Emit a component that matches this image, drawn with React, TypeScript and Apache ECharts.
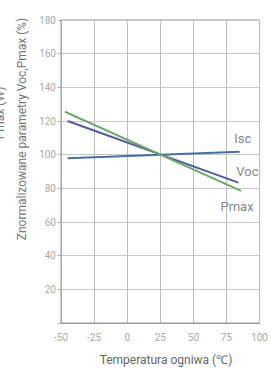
import React, { useEffect, useRef } from "react";
import * as echarts from "echarts";

const xTicks = [-50, -25, 0, 25, 50, 75, 100];
const seriesNames = ["Isc", "Voc", "Pmax"];
const iscData = [[-45, 97.8], [85, 101.8]];
const vocData = [[-45, 120], [84, 83.4]];
const pmaxData = [[-47, 125.5], [86, 78.5]];
const colors = ["#4a6f9c", "#545c98", "#6fa86c"];
const labelOffsets = [[3, -13], [9, -11], [-4, 16]];

export default function App() {
  const ref = useRef<HTMLDivElement>(null);
  useEffect(() => {
    if (!ref.current) return;
    const chart = echarts.init(ref.current, null, { renderer: "svg" });
    const all = [iscData, vocData, pmaxData];
    chart.setOption({
      animation: false,
      grid: {
        left: 61,
        right: 8,
        top: 20,
        bottom: 47,
        show: true,
        borderColor: "#999",
        borderWidth: 1,
        backgroundColor: "transparent",
      },
      xAxis: {
        type: "value",
        min: xTicks[0],
        max: xTicks[xTicks.length - 1],
        interval: 25,
        axisLine: { show: true, onZero: false, lineStyle: { color: "#999" } },
        axisTick: { show: false },
        axisLabel: { color: "#aaa", fontSize: 10, fontFamily: "Roboto", margin: 9 },
        splitLine: { show: true, lineStyle: { color: "#bdbdbd" } },
      },
      yAxis: {
        type: "value",
        min: 0,
        max: 180,
        interval: 20,
        axisLine: { show: true, onZero: false, lineStyle: { color: "#aaa" } },
        axisTick: { show: true, length: 3, lineStyle: { color: "#aaa" } },
        axisLabel: {
          color: "#aaa",
          fontSize: 10,
          fontFamily: "Roboto",
          margin: 5,
          formatter: (v: number) => (v === 0 ? "" : String(v)),
        },
        splitLine: { show: true, lineStyle: { color: "#c8c8c8" } },
      },
      series: all.map((d, i) => ({
        type: "line",
        name: seriesNames[i],
        data: d,
        showSymbol: false,
        symbol: "none",
        lineStyle: { color: colors[i], width: 2 },
        itemStyle: { color: colors[i] },
      })),
    });
    const graphics: any[] = [];
    all.forEach((d, i) => {
      const end = d[d.length - 1];
      const p = chart.convertToPixel({ gridIndex: 0 }, end) as number[];
      graphics.push({
        type: "text",
        x: p[0] + labelOffsets[i][0],
        y: p[1] + labelOffsets[i][1],
        style: {
          text: seriesNames[i],
          fill: "#888",
          fontSize: 13,
          fontFamily: "Roboto",
          align: "center",
          verticalAlign: "middle",
        },
      });
    });
    graphics.push({
      type: "text",
      x: 22,
      y: 129,
      rotation: Math.PI / 2,
      style: {
        text: "Znormalizowane parametry Voc,Pmax (%)",
        fill: "#777",
        fontSize: 12,
        fontFamily: "Roboto",
        align: "center",
        verticalAlign: "middle",
      },
    });
    graphics.push({
      type: "text",
      x: 0,
      y: 113,
      rotation: Math.PI / 2,
      style: {
        text: "Pmax (W)",
        fill: "#777",
        fontSize: 12,
        fontFamily: "Roboto",
        align: "center",
        verticalAlign: "middle",
      },
    });
    graphics.push({
      type: "text",
      x: 166,
      y: 360,
      style: {
        text: "Temperatura ogniwa (℃)",
        fill: "#666",
        fontSize: 12,
        fontFamily: "Roboto",
        align: "center",
        verticalAlign: "middle",
      },
    });
    chart.setOption({ graphic: graphics });
    return () => chart.dispose();
  }, []);
  return <div ref={ref} style={{ width: 271, height: 370, position: "absolute", left: 0, top: 0 }} />;
}
